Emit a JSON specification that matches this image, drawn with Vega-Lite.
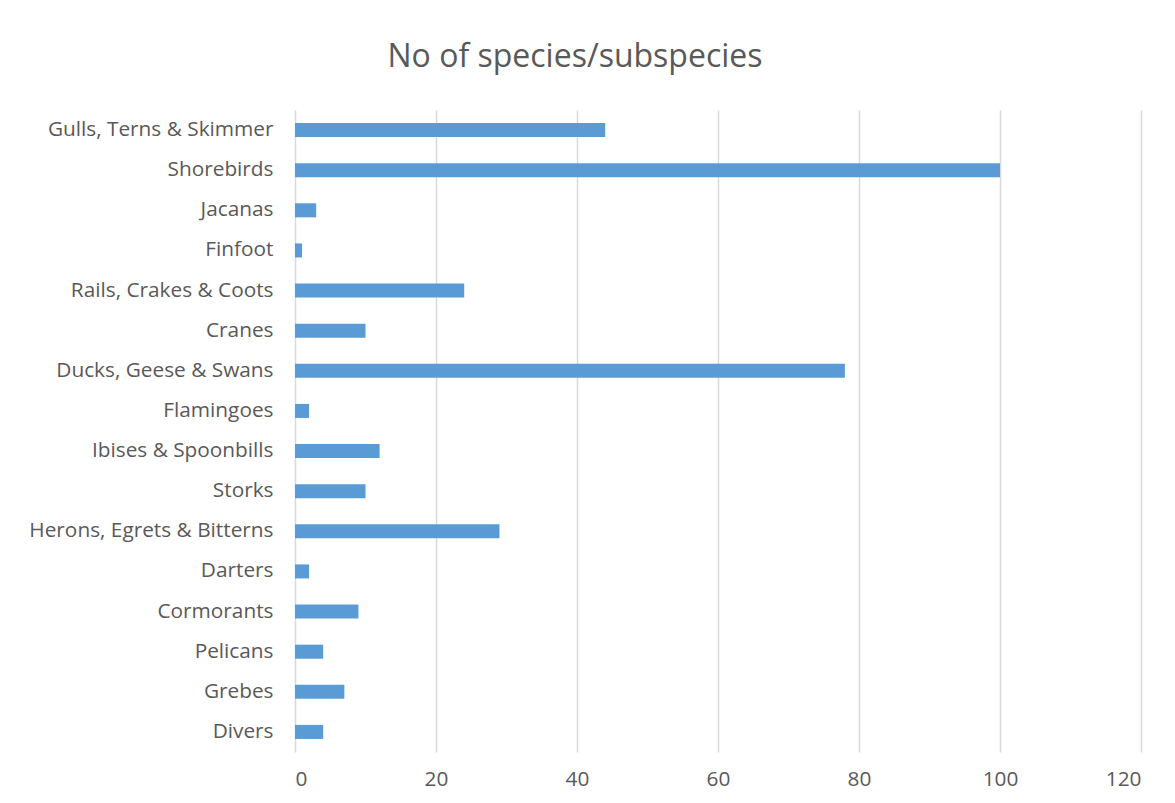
{
  "$schema": "https://vega.github.io/schema/vega-lite/v6.json",
  "autosize": {"type": "none"},
  "width": 846,
  "height": 642,
  "padding": {"left": 295, "top": 110, "right": 34, "bottom": 51},
  "background": "white",
  "title": {
    "text": "No of species/subspecies",
    "font": "Open Sans",
    "fontSize": 32,
    "fontWeight": "normal",
    "color": "#595959",
    "anchor": "middle",
    "dx": -143,
    "offset": 36
  },
  "data": {
    "values": [
      {"group": "Gulls, Terns & Skimmer", "count": 44},
      {"group": "Shorebirds", "count": 100},
      {"group": "Jacanas", "count": 3},
      {"group": "Finfoot", "count": 1},
      {"group": "Rails, Crakes & Coots", "count": 24},
      {"group": "Cranes", "count": 10},
      {"group": "Ducks, Geese & Swans", "count": 78},
      {"group": "Flamingoes", "count": 2},
      {"group": "Ibises & Spoonbills", "count": 12},
      {"group": "Storks", "count": 10},
      {"group": "Herons, Egrets & Bitterns", "count": 29},
      {"group": "Darters", "count": 2},
      {"group": "Cormorants", "count": 9},
      {"group": "Pelicans", "count": 4},
      {"group": "Grebes", "count": 7},
      {"group": "Divers", "count": 4}
    ]
  },
  "mark": {"type": "bar", "color": "#5B9BD5"},
  "encoding": {
    "y": {
      "field": "group",
      "type": "nominal",
      "sort": null,
      "scale": {"paddingInner": 0.65, "paddingOuter": 0.325},
      "axis": {
        "title": null,
        "domain": false,
        "ticks": false,
        "grid": false,
        "labelFont": "Open Sans",
        "labelFontSize": 20.8,
        "labelColor": "#595959",
        "labelPadding": 22,
        "labelLimit": 400
      }
    },
    "x": {
      "field": "count",
      "type": "quantitative",
      "scale": {"domain": [0, 120], "nice": false},
      "axis": {
        "title": null,
        "values": [0, 20, 40, 60, 80, 100, 120],
        "domain": false,
        "ticks": false,
        "grid": true,
        "gridColor": "#d9d9d9",
        "gridWidth": 1.5,
        "labelFont": "Open Sans",
        "labelFontSize": 20.8,
        "labelColor": "#595959",
        "labelPadding": 17
      }
    }
  },
  "config": {"view": {"stroke": null}}
}
